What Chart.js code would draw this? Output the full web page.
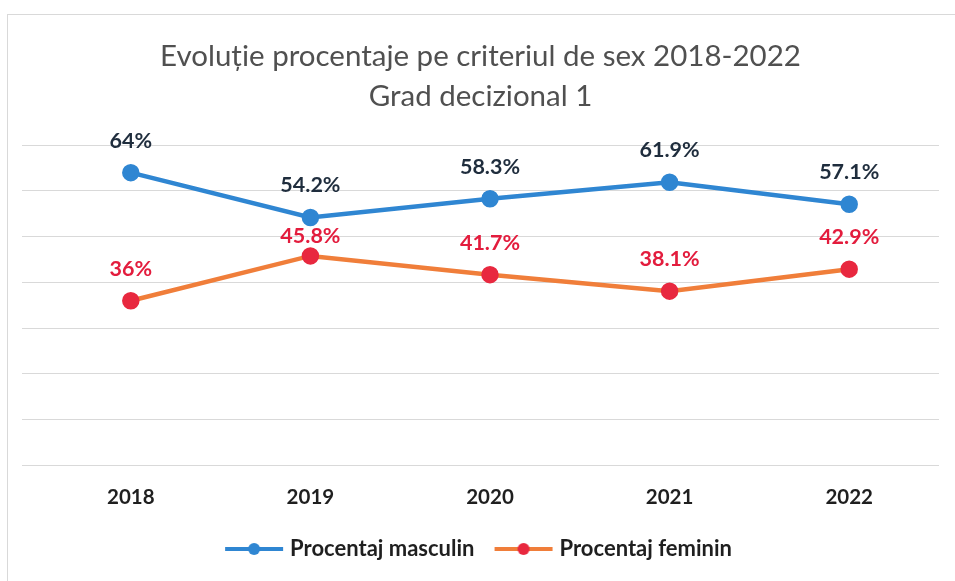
<!DOCTYPE html>
<html>
<head>
<meta charset="utf-8">
<script src="https://cdn.jsdelivr.net/npm/chart.js@4.4.1/dist/chart.umd.min.js"></script>
<style>
  html, body { margin: 0; padding: 0; background: #fff; }
  #cadru { position: absolute; left: 7px; top: 14px; width: 960px; height: 600px; border: 1px solid #d9d9d9; }
  #zona { position: absolute; left: 0; top: 0; width: 955px; height: 581px; }
</style>
</head>
<body>
<div id="cadru"></div>
<div id="zona"><canvas id="grafic"></canvas></div>
<script>
// date
const ani = ["2018", "2019", "2020", "2021", "2022"];
const procentMasculin = [64, 54.2, 58.3, 61.9, 57.1];
const procentFeminin = [36, 45.8, 41.7, 38.1, 42.9];
const titluGrafic = ["Evoluție procentaje pe criteriul de sex 2018-2022", "Grad decizional 1"];

const albastru = "#2f86d2";
const portocaliu = "#f07e3a";
const rosu = "#e8283f";
const fontText = "Lato, 'Open Sans', sans-serif";

// simbol legenda: linie cu punct
function simbolLegenda(culoareLinie, culoarePunct) {
  const c = document.createElement("canvas");
  c.width = 60; c.height = 14;
  const ctx = c.getContext("2d");
  ctx.strokeStyle = culoareLinie;
  ctx.lineWidth = 4;
  ctx.beginPath();
  ctx.moveTo(1, 7); ctx.lineTo(59, 7);
  ctx.stroke();
  ctx.fillStyle = culoarePunct;
  ctx.beginPath();
  ctx.arc(30, 7, 6, 0, Math.PI * 2);
  ctx.fill();
  return c;
}

// etichete de valoare deasupra punctelor
const eticheteValori = {
  id: "eticheteValori",
  afterDatasetsDraw(chart, args, opts) {
    const ctx = chart.ctx;
    ctx.save();
    ctx.font = "bold 21.5px " + fontText;
    ctx.textAlign = "center";
    ctx.textBaseline = "middle";
    chart.data.datasets.forEach((ds, i) => {
      const meta = chart.getDatasetMeta(i);
      ctx.fillStyle = ds.culoareEticheta;
      meta.data.forEach((pt, j) => {
        // eticheta 45.8% e mutata mai jos in original
        const dist = opts.exceptii[i + "-" + j] || opts.distanta;
        ctx.fillText(ds.data[j] + "%", pt.x, pt.y - dist);
      });
    });
    ctx.restore();
  }
};

new Chart(document.getElementById("grafic"), {
  type: "line",
  data: {
    labels: ani,
    datasets: [
      {
        label: "Procentaj masculin",
        data: procentMasculin,
        borderColor: albastru,
        backgroundColor: albastru,
        pointBackgroundColor: albastru,
        pointBorderColor: albastru,
        borderWidth: 4.5,
        pointRadius: 6.5,
        culoareEticheta: "#1f2d3d",
        simbol: simbolLegenda(albastru, albastru)
      },
      {
        label: "Procentaj feminin",
        data: procentFeminin,
        borderColor: portocaliu,
        backgroundColor: rosu,
        pointBackgroundColor: rosu,
        pointBorderColor: rosu,
        borderWidth: 4.5,
        pointRadius: 6.5,
        culoareEticheta: "#e31c3d",
        simbol: simbolLegenda(portocaliu, rosu)
      }
    ]
  },
  options: {
    responsive: true,
    maintainAspectRatio: false,
    animation: false,
    layout: { padding: { left: 22, right: 16, top: 36, bottom: 11 } },
    plugins: {
      eticheteValori: { distanta: 32, exceptii: { "1-1": 20 } },
      title: {
        display: true,
        text: titluGrafic,
        color: "#505050",
        font: { family: fontText, size: 29.5, weight: "normal", lineHeight: 1.36 },
        padding: { top: 0, bottom: 29 }
      },
      legend: {
        position: "bottom",
        labels: {
          usePointStyle: true,
          pointStyleWidth: 50,
          color: "#1f1f1f",
          font: { family: fontText, size: 22, weight: "bold" },
          padding: 8,
          generateLabels(chart) {
            return chart.data.datasets.map((ds, i) => ({
              // spatiu suplimentar intre elementele legendei
              text: i === 0 ? ds.label + "   " : ds.label,
              pointStyle: ds.simbol,
              fillStyle: ds.borderColor,
              strokeStyle: ds.borderColor,
              lineWidth: 0,
              fontColor: "#1f1f1f",
              datasetIndex: i
            }));
          }
        }
      },
      tooltip: { enabled: false }
    },
    scales: {
      x: {
        offset: true,
        grid: { display: false, drawTicks: false },
        border: { display: false },
        ticks: {
          color: "#1f1f1f",
          padding: 20,
          font: { family: fontText, size: 20.5, weight: "bold" }
        }
      },
      y: {
        min: 0,
        max: 70,
        ticks: { display: false, stepSize: 10 },
        grid: { color: "#d9d9d9", lineWidth: 1, drawTicks: true, tickLength: 19 },
        border: { display: false }
      }
    }
  },
  plugins: [eticheteValori]
});
</script>
</body>
</html>
